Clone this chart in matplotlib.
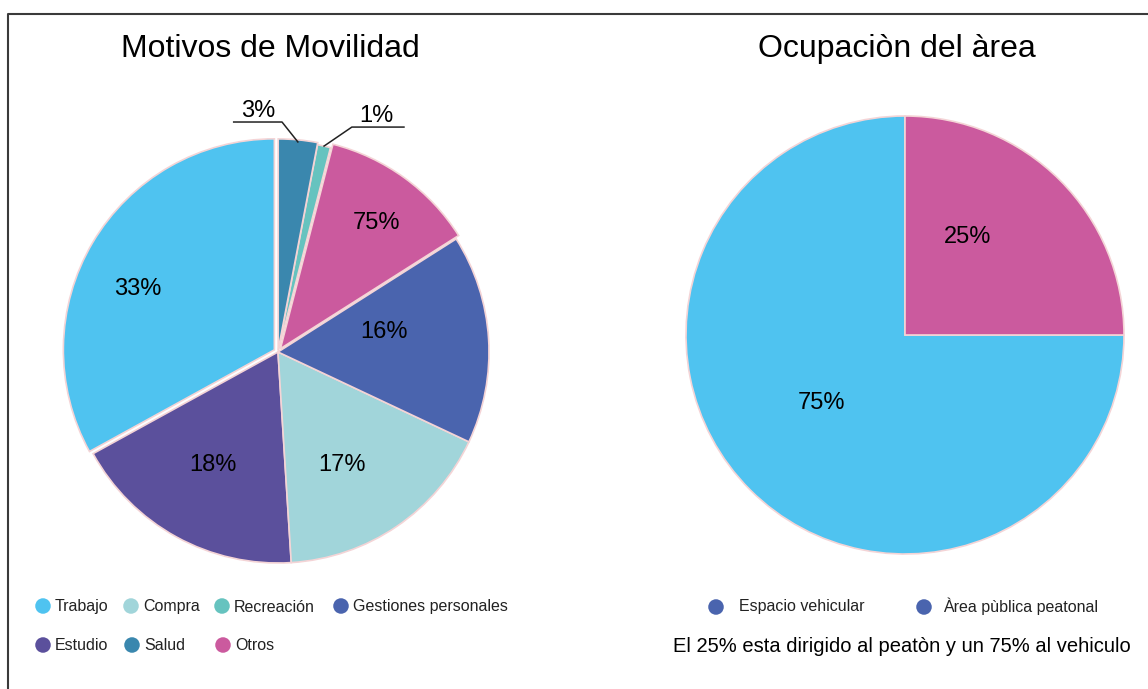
import matplotlib
matplotlib.use('Agg')
import matplotlib.pyplot as plt
import numpy as np

plt.rcParams['font.family'] = ['Liberation Sans', 'DejaVu Sans']

# --- datos ---
motivos = ['Trabajo', 'Estudio', 'Compra', 'Gestiones personales', 'Otros', 'Recreación', 'Salud']
motivos_pct = [33, 18, 17, 16, 12, 1, 3]
motivos_etiquetas = ['33%', '18%', '17%', '16%', '75%', '1%', '3%']
motivos_colores = ['#4fc3f0', '#5b509c', '#a1d5da', '#4a64ae', '#cb5a9e', '#66c3bf', '#3a87ae']
orden_leyenda = ['Trabajo', 'Compra', 'Recreación', 'Gestiones personales', 'Estudio', 'Salud', 'Otros']

area = ['Espacio vehicular', 'Àrea pùblica peatonal']
area_pct = [75, 25]
area_colores = ['#4fc3f0', '#cb5a9e']
nota = 'El 25% esta dirigido al peatòn y un 75% al vehiculo'

W, H = 1148, 689
borde = '#f4d4d6'

fig = plt.figure(figsize=(W / 100, H / 100), dpi=100, facecolor='white')

# capa en pixeles para titulos, leyendas y marco
ov = fig.add_axes([0, 0, 1, 1])
ov.set_xlim(0, W)
ov.set_ylim(H, 0)
ov.axis('off')


def caja(cx, cy, r):
    return [(cx - r) / W, (H - cy - r) / H, 2 * r / W, 2 * r / H]


def rotular(ax, wedges, etiquetas, dist, giro):
    # texto dentro de cada porcion: distancia al centro y giro respecto al angulo medio
    for w, lab, d, g in zip(wedges, etiquetas, dist, giro):
        a = np.deg2rad((w.theta1 + w.theta2) / 2 + g)
        ax.text(d * np.cos(a), d * np.sin(a), lab, ha='center', va='center', fontsize=17)


# --- Motivos de Movilidad ---
ax1 = fig.add_axes(caja(278, 352, 211))
wedges, _ = ax1.pie(motivos_pct, colors=motivos_colores, startangle=90,
                    counterclock=True,
                    explode=[0.02, 0, 0, 0, 0.02, 0, 0.01],
                    wedgeprops=dict(edgecolor=borde, linewidth=1.2))
for w in wedges:
    w.set_clip_on(False)
ax1.set_xlim(-1, 1)
ax1.set_ylim(-1, 1)
ax1.set_aspect('equal')

rotular(ax1, wedges[:5], motivos_etiquetas[:5],
        [0.73, 0.62, 0.615, 0.51, 0.77], [6.4, -1.1, -4.7, 7.1, -1.5])

# etiquetas externas con linea guia (Recreación y Salud)
guias = {5: ((0.35, 1.066), (0.597, 1.066), (0.464, 1.12)),
         6: ((0.019, 1.09), (-0.21, 1.09), (-0.095, 1.14))}
for i, (codo, fin, pos) in guias.items():
    w = wedges[i]
    a = np.deg2rad((w.theta1 + w.theta2) / 2)
    x0, y0 = 1.0 * np.cos(a), 1.0 * np.sin(a)
    ax1.plot([x0, codo[0], fin[0]], [y0, codo[1], fin[1]], color='#222222', lw=1.1,
             clip_on=False)
    ax1.text(pos[0], pos[1], motivos_etiquetas[i], ha='center', va='center',
             fontsize=17, clip_on=False)

ov.text(270, 49, 'Motivos de Movilidad', ha='center', va='center', fontsize=23)

# leyenda izquierda
ley_pos = [(43, 606), (131, 606), (222, 606), (341, 606), (43, 645), (132, 645), (223, 645)]
for nombre, (mx, my) in zip(orden_leyenda, ley_pos):
    c = motivos_colores[motivos.index(nombre)]
    ov.scatter([mx], [my], s=125, color=c, edgecolors='none')
    ov.text(mx + 12, my + 1, nombre, ha='left', va='center', fontsize=11.5, color='#222222')

# --- Ocupaciòn del àrea ---
ax2 = fig.add_axes(caja(905, 335, 219))
w2, _ = ax2.pie(area_pct, colors=area_colores, startangle=90, counterclock=True,
                wedgeprops=dict(edgecolor=borde, linewidth=1.2))
ax2.set_xlim(-1, 1)
ax2.set_ylim(-1, 1)
ax2.set_aspect('equal')
rotular(ax2, w2, [f'{v}%' for v in area_pct], [0.49, 0.53], [-5.7, 12.3])

ov.text(897, 49, 'Ocupaciòn del àrea', ha='center', va='center', fontsize=23)

for nombre, (mx, tx) in zip(area, [(716, 739), (924, 943)]):
    ov.scatter([mx], [607], s=125, color='#4a64ae', edgecolors='none')
    ov.text(tx, 606, nombre, ha='left', va='center', fontsize=11.5, color='#222222')

ov.text(902, 646, nota, ha='center', va='center', fontsize=14.5)

# marco
ov.plot([8, 8, W], [H, 14, 14], color='#3a3a3a', lw=1.5, clip_on=False)

fig.savefig('out.png', dpi=100, facecolor='white')
